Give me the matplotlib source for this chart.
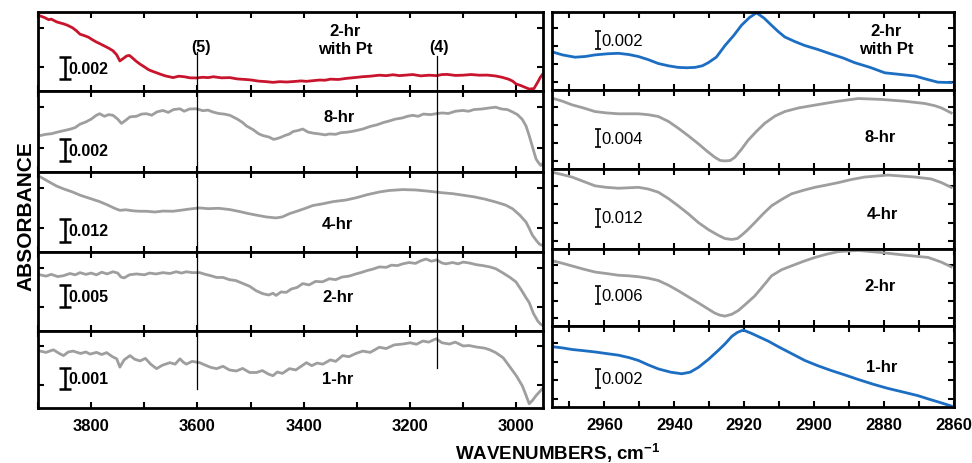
import matplotlib.pyplot as plt
from matplotlib.ticker import MultipleLocator
import numpy as np

plt.rcParams['font.family'] = ['Liberation Sans', 'DejaVu Sans']
plt.rcParams['mathtext.default'] = 'regular'

NARROW = ['Liberation Sans Narrow', 'Liberation Sans', 'DejaVu Sans']

# ---- O-H stretch region, 3900-2950 cm-1: (wavenumber, absorbance x 1e-3) ----
pt2_oh = np.array([
    [3896, 6.84], [3888, 6.70], [3880, 6.50], [3875, 6.55], [3865, 6.30], [3858, 6.20],
    [3852, 6.12], [3845, 6.00], [3835, 5.76], [3828, 5.50], [3821, 5.18], [3813, 5.05],
    [3805, 4.90], [3797, 4.65], [3790, 4.46], [3783, 4.30], [3775, 4.10], [3767, 3.90],
    [3759, 3.67], [3752, 3.30], [3746, 2.74], [3740, 2.95], [3733, 3.20], [3728, 3.24],
    [3722, 3.00], [3715, 2.70], [3708, 2.45], [3700, 2.20], [3692, 1.94], [3685, 1.80],
    [3677, 1.66], [3668, 1.50], [3660, 1.37], [3653, 1.30], [3646, 1.22], [3635, 1.35],
    [3625, 1.30], [3614, 1.20], [3602, 1.19], [3590, 1.25], [3580, 1.22], [3570, 1.30],
    [3555, 1.20], [3539, 1.22], [3525, 1.10], [3510, 1.05], [3500, 1.01], [3485, 0.90],
    [3470, 0.85], [3458, 0.79], [3445, 0.85], [3432, 0.82], [3420, 0.86], [3405, 0.92],
    [3395, 0.88], [3383, 0.94], [3370, 1.00], [3360, 0.98], [3350, 1.08], [3335, 1.05],
    [3320, 1.15], [3305, 1.22], [3290, 1.30], [3275, 1.35], [3258, 1.44], [3245, 1.40],
    [3232, 1.48], [3220, 1.40], [3210, 1.44], [3195, 1.50], [3180, 1.38], [3164, 1.44],
    [3150, 1.40], [3140, 1.50], [3130, 1.51], [3115, 1.42], [3101, 1.44], [3085, 1.50],
    [3070, 1.44], [3055, 1.45], [3039, 1.37], [3027, 1.25], [3015, 1.08], [3007, 0.90],
    [3001, 0.65], [2992, 0.50], [2985, 0.36], [2976, 0.18], [2967, 0.22], [2960, 0.80],
    [2955, 1.25], [2951, 1.51]])

h8_oh = np.array([
    [3896, 3.24], [3885, 3.35], [3875, 3.40], [3863, 3.55], [3852, 3.67], [3840, 3.80],
    [3830, 3.95], [3821, 4.25], [3810, 4.45], [3800, 4.70], [3790, 5.05], [3784, 5.18],
    [3775, 4.95], [3767, 5.10], [3759, 5.04], [3750, 4.70], [3743, 4.32], [3735, 4.60],
    [3727, 4.90], [3715, 4.95], [3705, 5.15], [3696, 5.18], [3686, 5.05], [3676, 5.35],
    [3665, 5.47], [3655, 5.30], [3645, 5.55], [3633, 5.62], [3625, 5.40], [3615, 5.60],
    [3602, 5.62], [3590, 5.45], [3580, 5.50], [3571, 5.33], [3560, 5.20], [3550, 5.15],
    [3539, 5.04], [3525, 4.70], [3515, 4.40], [3508, 4.10], [3495, 3.75], [3485, 3.40],
    [3477, 3.24], [3465, 3.10], [3457, 2.90], [3452, 2.95], [3445, 3.05], [3435, 3.25],
    [3427, 3.38], [3420, 3.60], [3410, 3.70], [3402, 3.82], [3392, 3.55], [3382, 3.45],
    [3370, 3.38], [3360, 3.30], [3352, 3.38], [3340, 3.35], [3330, 3.50], [3320, 3.53],
    [3310, 3.60], [3300, 3.70], [3289, 3.82], [3275, 4.05], [3262, 4.20], [3250, 4.40],
    [3239, 4.54], [3228, 4.70], [3215, 4.80], [3205, 4.95], [3195, 5.04], [3185, 4.95],
    [3175, 5.15], [3162, 5.10], [3151, 5.18], [3140, 5.25], [3128, 5.20], [3115, 5.40],
    [3101, 5.47], [3090, 5.40], [3080, 5.55], [3065, 5.60], [3050, 5.70], [3039, 5.76],
    [3028, 5.60], [3017, 5.55], [3007, 5.33], [2998, 5.10], [2989, 4.68], [2982, 4.10],
    [2976, 3.24], [2969, 2.10], [2963, 1.15], [2958, 0.80], [2954, 0.58], [2951, 0.72]])

h4_oh = np.array([
    [3896, 40.6], [3880, 38.0], [3865, 35.6], [3852, 34.1], [3835, 32.4], [3820, 30.6],
    [3802, 28.9], [3785, 27.3], [3770, 25.5], [3755, 23.5], [3746, 22.5], [3735, 22.8],
    [3720, 22.2], [3708, 22.0], [3696, 22.0], [3680, 21.6], [3665, 22.1], [3646, 22.0],
    [3630, 22.6], [3615, 23.2], [3596, 23.8], [3580, 23.4], [3560, 23.6], [3539, 22.9],
    [3520, 21.8], [3505, 20.8], [3489, 19.9], [3470, 18.9], [3452, 18.4], [3440, 19.0],
    [3427, 20.7], [3410, 22.3], [3395, 23.8], [3383, 25.1], [3365, 26.0], [3345, 27.2],
    [3320, 28.1], [3300, 29.4], [3280, 31.0], [3258, 32.4], [3240, 33.2], [3214, 33.7],
    [3190, 33.5], [3164, 32.8], [3140, 32.0], [3120, 31.5], [3101, 30.7], [3080, 29.8],
    [3060, 28.6], [3039, 27.0], [3020, 25.3], [3007, 23.3], [2994, 20.0], [2982, 16.2],
    [2976, 12.8], [2970, 9.1], [2963, 6.4], [2957, 4.3], [2951, 3.5]])

h2_oh = np.array([
    [3896, 12.8], [3885, 12.5], [3875, 12.9], [3863, 12.4], [3852, 12.6], [3840, 13.1],
    [3830, 12.8], [3821, 13.3], [3810, 12.9], [3800, 13.2], [3790, 12.8], [3780, 13.4],
    [3770, 13.0], [3759, 13.5], [3750, 13.2], [3744, 12.3], [3738, 12.1], [3728, 12.8],
    [3715, 13.0], [3700, 12.8], [3690, 13.2], [3678, 13.0], [3665, 13.3], [3652, 13.1],
    [3640, 13.5], [3630, 13.2], [3621, 13.5], [3610, 13.3], [3596, 13.3], [3585, 12.9],
    [3575, 12.6], [3564, 12.2], [3552, 12.2], [3540, 11.7], [3528, 11.5], [3514, 10.8],
    [3502, 10.2], [3490, 9.2], [3477, 8.5], [3466, 8.2], [3458, 8.6], [3452, 8.1],
    [3443, 8.9], [3433, 8.8], [3423, 9.6], [3413, 9.9], [3402, 10.8], [3390, 10.5],
    [3378, 11.3], [3365, 11.2], [3352, 11.9], [3340, 11.7], [3328, 12.3], [3315, 12.5],
    [3302, 13.0], [3290, 13.4], [3280, 13.8], [3270, 14.1], [3258, 14.6], [3245, 14.5],
    [3235, 15.0], [3224, 14.9], [3214, 15.3], [3202, 15.6], [3190, 15.4], [3180, 16.0],
    [3170, 16.4], [3160, 15.9], [3150, 16.2], [3140, 15.5], [3133, 15.3], [3120, 15.6],
    [3110, 15.3], [3100, 15.7], [3089, 15.5], [3075, 15.1], [3063, 14.9], [3050, 14.6],
    [3039, 14.2], [3025, 13.2], [3012, 12.2], [3001, 11.2], [2990, 9.2], [2982, 7.6],
    [2976, 6.5], [2968, 4.0], [2960, 2.3], [2955, 1.6], [2951, 1.3]])

h1_oh = np.array([
    [3896, 2.66], [3885, 2.60], [3871, 2.72], [3860, 2.55], [3852, 2.45], [3843, 2.62],
    [3834, 2.66], [3820, 2.55], [3810, 2.62], [3802, 2.52], [3790, 2.60], [3780, 2.50],
    [3771, 2.59], [3760, 2.40], [3752, 2.30], [3746, 1.91], [3738, 2.25], [3727, 2.45],
    [3718, 2.28], [3708, 2.20], [3698, 2.32], [3688, 2.05], [3677, 1.84], [3666, 2.00],
    [3652, 2.12], [3642, 2.05], [3633, 2.30], [3627, 2.15], [3621, 2.05], [3610, 2.18],
    [3596, 2.12], [3585, 2.00], [3575, 1.90], [3564, 1.84], [3552, 1.95], [3540, 1.78],
    [3527, 1.73], [3515, 1.85], [3502, 1.66], [3489, 1.66], [3478, 1.75], [3466, 1.58],
    [3458, 1.51], [3450, 1.68], [3440, 1.62], [3427, 1.84], [3415, 1.78], [3395, 2.12],
    [3385, 1.98], [3375, 2.10], [3364, 2.05], [3350, 2.25], [3340, 2.18], [3327, 2.45],
    [3315, 2.40], [3302, 2.55], [3289, 2.66], [3275, 2.60], [3258, 2.84], [3245, 2.78],
    [3230, 2.95], [3214, 2.99], [3200, 3.05], [3188, 2.98], [3176, 3.13], [3165, 3.08],
    [3151, 3.24], [3140, 3.05], [3126, 2.99], [3115, 3.08], [3100, 2.90], [3089, 2.92],
    [3075, 2.85], [3060, 2.80], [3050, 2.72], [3039, 2.59], [3025, 2.35], [3014, 1.98],
    [3000, 1.50], [2989, 1.04], [2982, 0.60], [2976, 0.20], [2970, 0.35], [2963, 0.58],
    [2955, 0.80], [2951, 0.90]])

# ---- C-H stretch region, 2975-2860 cm-1: (wavenumber, absorbance x 1e-3) ----
pt2_ch = np.array([
    [2975.0, 4.31], [2972.0, 3.96], [2968.4, 3.70], [2965.5, 3.78], [2962.7, 3.96],
    [2959.0, 4.09], [2956.0, 4.14], [2953.0, 4.00], [2950.3, 3.78], [2947.5, 3.43],
    [2944.6, 2.99], [2941.7, 2.73], [2938.9, 2.55], [2936.5, 2.51], [2934.1, 2.55],
    [2932.0, 2.73], [2930.3, 3.08], [2928.0, 3.70], [2925.5, 5.02], [2923.0, 6.16],
    [2920.8, 7.30], [2918.5, 8.18], [2916.5, 8.71], [2914.3, 8.10], [2912.2, 7.30],
    [2910.3, 6.60], [2908.4, 5.98], [2905.5, 5.46], [2902.7, 5.02], [2899.0, 4.58],
    [2895.1, 4.05], [2891.7, 3.61], [2888.4, 3.08], [2884.0, 2.55], [2879.8, 1.94],
    [2875.5, 1.76], [2871.2, 1.58], [2868.0, 1.23], [2864.6, 0.88], [2860.8, 0.84]])

h8_ch = np.array([
    [2975.0, 15.8], [2972.0, 15.1], [2969.3, 14.3], [2966.0, 13.6], [2962.7, 12.8],
    [2959.5, 12.5], [2956.0, 12.3], [2953.0, 12.3], [2950.3, 12.3], [2947.5, 12.1],
    [2944.6, 11.7], [2941.7, 10.6], [2938.9, 9.1], [2936.0, 7.4], [2933.1, 5.6],
    [2930.7, 4.0], [2928.4, 2.6], [2926.9, 1.9], [2925.5, 1.8], [2924.0, 1.9],
    [2922.7, 2.6], [2920.8, 4.4], [2918.9, 6.4], [2916.5, 8.4], [2914.1, 10.2],
    [2911.2, 11.8], [2908.4, 12.8], [2904.5, 13.6], [2900.8, 14.1], [2897.0, 14.6],
    [2893.1, 15.1], [2887.4, 15.7], [2880.8, 15.5], [2874.1, 15.1], [2868.4, 14.6],
    [2865.5, 14.1], [2863.6, 13.6], [2860.8, 12.5]])

h4_ch = np.array([
    [2975.0, 50.7], [2972.0, 49.1], [2969.3, 47.5], [2966.0, 44.6], [2962.7, 41.7],
    [2959.5, 40.7], [2956.0, 40.1], [2953.0, 40.4], [2950.3, 40.7], [2947.5, 39.6],
    [2944.6, 37.5], [2941.7, 33.3], [2938.9, 28.5], [2936.0, 23.2], [2933.1, 17.4],
    [2930.2, 12.7], [2927.4, 9.0], [2925.5, 6.9], [2923.6, 6.3], [2922.0, 6.9],
    [2920.8, 9.0], [2919.0, 12.7], [2917.0, 17.4], [2914.6, 23.2], [2912.2, 28.5],
    [2909.3, 32.7], [2906.5, 36.4], [2903.0, 38.8], [2899.8, 40.7], [2896.5, 42.2],
    [2893.1, 43.8], [2889.3, 45.9], [2885.5, 47.5], [2878.9, 48.8], [2871.2, 47.5],
    [2866.5, 46.2], [2863.6, 43.8], [2860.8, 40.7]])

h2_ch = np.array([
    [2975.0, 22.4], [2972.0, 21.5], [2969.3, 20.6], [2966.0, 19.5], [2962.7, 18.5],
    [2959.5, 18.0], [2956.0, 17.4], [2953.0, 17.2], [2950.3, 16.9], [2947.5, 16.4],
    [2944.6, 15.6], [2941.7, 14.0], [2938.9, 12.1], [2936.0, 10.0], [2933.1, 7.9],
    [2930.7, 6.1], [2928.4, 4.4], [2926.9, 3.7], [2925.5, 3.4], [2923.6, 4.0],
    [2921.7, 5.3], [2919.4, 7.7], [2917.0, 10.3], [2914.6, 13.7], [2912.2, 17.2],
    [2909.3, 19.3], [2906.5, 20.6], [2903.0, 22.2], [2899.8, 23.5], [2896.5, 24.6],
    [2893.1, 25.5], [2887.4, 25.9], [2880.8, 25.2], [2874.1, 24.3], [2867.4, 23.5],
    [2863.6, 21.9], [2860.8, 20.3]])

h1_ch = np.array([
    [2975.0, 6.56], [2972.0, 6.42], [2969.3, 6.25], [2966.0, 6.12], [2962.7, 5.98],
    [2959.5, 5.81], [2956.0, 5.63], [2953.0, 5.37], [2950.3, 5.06], [2947.5, 4.58],
    [2944.6, 4.14], [2941.0, 3.78], [2937.9, 3.61], [2935.5, 3.78], [2933.1, 4.31],
    [2930.2, 5.19], [2927.4, 6.16], [2925.5, 6.86], [2923.6, 7.66], [2922.0, 8.10],
    [2920.3, 8.36], [2918.0, 8.01], [2916.0, 7.66], [2913.0, 7.13], [2910.3, 6.56],
    [2906.5, 5.81], [2902.7, 5.06], [2899.0, 4.49], [2895.1, 3.96], [2891.2, 3.48],
    [2887.4, 2.99], [2883.0, 2.46], [2878.9, 2.02], [2874.6, 1.63], [2870.3, 1.23],
    [2867.4, 0.88], [2864.6, 0.56], [2860.8, 0.11]])

labels = ['2-hr\nwith Pt', '8-hr', '4-hr', '2-hr', '1-hr']
scale_left = [0.002, 0.002, 0.012, 0.005, 0.001]
scale_right = [0.002, 0.004, 0.012, 0.006, 0.002]

RED, BLUE, GREY = '#c8142c', '#1c6ec2', '#9e9e9e'

left_sets = [(pt2_oh, RED), (h8_oh, GREY), (h4_oh, GREY), (h2_oh, GREY), (h1_oh, GREY)]
right_sets = [(pt2_ch, BLUE), (h8_ch, GREY), (h4_ch, GREY), (h2_ch, GREY), (h1_ch, BLUE)]

W, H = 972, 464
fig = plt.figure(figsize=(W / 100, H / 100), dpi=100)


def px_axes(x0, x1, y0, y1):
    return fig.add_axes([x0 / W, 1 - y1 / H, (x1 - x0) / W, (y1 - y0) / H])


def frame(ax):
    for s in ax.spines.values():
        s.set_linewidth(2.0)
    ax.tick_params(which='both', direction='in', top=True, right=True,
                   length=4.5, width=1.5, labelleft=False)


# panel edges in pixels, top to bottom
left_edges = [13, 92, 173, 253, 332, 409]
right_edges = [13, 91, 170, 250, 327, 408]

# scale-bar vertical centre (axes fraction) and label positions (px)
bar_left = [0.29, 0.27, 0.27, 0.44, 0.38]
bar_right = [0.64, 0.39, 0.39, 0.40, 0.35]
lab_left_px = [(345, 40), (339, 118), (337, 225), (338, 298), (338, 380)]
lab_right_px = [(886, 40), (880, 137), (882, 215), (880, 287), (882, 368)]

for i, (spec, col) in enumerate(left_sets):
    ax = px_axes(38, 543, left_edges[i], left_edges[i + 1])
    span = scale_left[i] * 3.6
    ax.plot(spec[:, 0], spec[:, 1] * 1e-3, color=col, lw=2.0)
    ax.set_xlim(3900, 2950)
    ax.set_ylim(0, span)
    ax.xaxis.set_major_locator(MultipleLocator(200))
    ax.xaxis.set_minor_locator(MultipleLocator(100))
    ax.set_yticks([0.3 * span, 0.8 * span])
    frame(ax)
    ax.errorbar(3849, bar_left[i] * span, yerr=scale_left[i] / 2, fmt='none',
                ecolor='black', elinewidth=1.8, capsize=4, capthick=1.8)
    ax.text(3842, bar_left[i] * span, f'{scale_left[i]:.3f}', fontsize=11.5,
            weight='bold', ha='left', va='center')
    x, y = lab_left_px[i]
    fig.text(x / W, 1 - y / H, labels[i], fontsize=12, weight='bold',
             ha='center', va='center', multialignment='center', linespacing=1.25)
    if i < 4:
        ax.tick_params(labelbottom=False)
    else:
        ax.tick_params(axis='x', labelsize=12, pad=7)
        plt.setp(ax.get_xticklabels(), weight='bold')

for i, (spec, col) in enumerate(right_sets):
    ax = px_axes(552, 954, right_edges[i], right_edges[i + 1])
    span = scale_right[i] * 4.4
    ax.plot(spec[:, 0], spec[:, 1] * 1e-3, color=col, lw=2.0)
    ax.set_xlim(2975, 2860)
    ax.set_ylim(0, span)
    ax.xaxis.set_major_locator(MultipleLocator(20))
    ax.xaxis.set_minor_locator(MultipleLocator(10))
    ax.set_yticks([f * span for f in (0.10, 0.33, 0.56, 0.79)])
    frame(ax)
    ax.errorbar(2961.7, bar_right[i] * span, yerr=scale_right[i] / 2, fmt='none',
                ecolor='black', elinewidth=1.2, capsize=2.5, capthick=1.2)
    ax.text(2960.9, bar_right[i] * span, f'{scale_right[i]:.3f}', fontsize=12,
            family=NARROW, ha='left', va='center')
    x, y = lab_right_px[i]
    fig.text(x / W, 1 - y / H, labels[i], fontsize=12, weight='bold',
             ha='center', va='center', multialignment='center', linespacing=1.25)
    if i < 4:
        ax.tick_params(labelbottom=False)
    else:
        ax.tick_params(axis='x', labelsize=12, pad=7)
        plt.setp(ax.get_xticklabels(), family=NARROW, weight='bold')

# band markers drawn across the left column
over = px_axes(38, 543, 13, 409)
over.set_xlim(3900, 2950)
over.set_ylim(0, 1)
over.axis('off')
over.patch.set_alpha(0)
over.axvline(3600, ymin=0.048, ymax=0.899, color='black', lw=0.9)
over.axvline(3150, ymin=0.101, ymax=0.889, color='black', lw=0.9)
over.text(3594, 0.914, '(5)', fontsize=11.5, weight='bold', ha='center', va='center')
over.text(3146, 0.914, '(4)', fontsize=11.5, weight='bold', ha='center', va='center')

fig.text(26 / W, 1 - 216 / H, 'ABSORBANCE', rotation=90, fontsize=15, weight='bold',
         ha='center', va='center')
fig.text(558 / W, 1 - 453 / H, 'WAVENUMBERS, cm$^{-1}$', fontsize=13.5, weight='bold',
         ha='center', va='center')

fig.savefig('out.png', dpi=100)
